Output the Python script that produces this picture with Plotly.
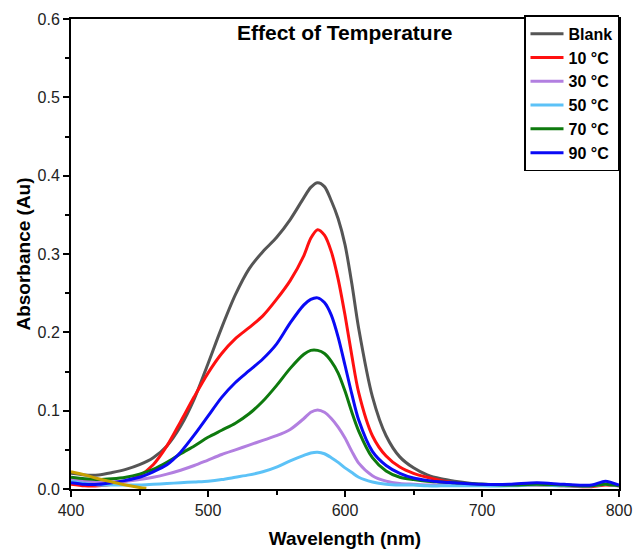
import plotly.graph_objects as go

wavelength = [400, 410, 420, 430, 440, 450, 460, 470, 480, 490, 500, 510, 520, 530, 540,
              550, 560, 570, 575, 580, 585, 590, 595, 600, 605, 610, 620, 630, 640, 650,
              660, 670, 680, 700, 720, 740, 760, 780, 790, 800]

blank = [0.020, 0.018, 0.018, 0.021, 0.025, 0.031, 0.040, 0.055, 0.080, 0.115, 0.160, 0.206,
         0.248, 0.281, 0.303, 0.321, 0.344, 0.372, 0.385, 0.391, 0.386, 0.368, 0.345, 0.312,
         0.262, 0.205, 0.118, 0.068, 0.041, 0.027, 0.018, 0.013, 0.010, 0.006, 0.005, 0.006,
         0.005, 0.004, 0.006, 0.004]
t10 = [0.006, 0.004, 0.004, 0.006, 0.010, 0.017, 0.031, 0.055, 0.086, 0.118, 0.148, 0.173,
       0.192, 0.206, 0.221, 0.242, 0.266, 0.298, 0.320, 0.331, 0.324, 0.303, 0.268, 0.222,
       0.170, 0.123, 0.068, 0.042, 0.028, 0.020, 0.015, 0.011, 0.008, 0.005, 0.005, 0.005,
       0.004, 0.003, 0.005, 0.004]
t30 = [0.012, 0.010, 0.009, 0.009, 0.010, 0.012, 0.015, 0.019, 0.024, 0.030, 0.037, 0.044,
       0.050, 0.056, 0.062, 0.068, 0.076, 0.090, 0.098, 0.101, 0.098, 0.090, 0.079, 0.065,
       0.048, 0.033, 0.017, 0.010, 0.007, 0.006, 0.005, 0.005, 0.005, 0.005, 0.005, 0.006,
       0.005, 0.004, 0.006, 0.004]
t50 = [0.010, 0.007, 0.005, 0.005, 0.005, 0.005, 0.006, 0.007, 0.008, 0.009, 0.010, 0.012,
       0.015, 0.018, 0.022, 0.028, 0.036, 0.043, 0.046, 0.047, 0.045, 0.040, 0.034, 0.027,
       0.021, 0.015, 0.009, 0.006, 0.005, 0.005, 0.004, 0.004, 0.004, 0.004, 0.004, 0.005,
       0.004, 0.004, 0.006, 0.004]
t70 = [0.015, 0.013, 0.012, 0.013, 0.015, 0.019, 0.025, 0.034, 0.045, 0.055, 0.066, 0.075,
       0.084, 0.096, 0.112, 0.132, 0.154, 0.172, 0.177, 0.177, 0.173, 0.163, 0.148, 0.125,
       0.098, 0.074, 0.040, 0.023, 0.015, 0.012, 0.010, 0.009, 0.008, 0.006, 0.005, 0.006,
       0.005, 0.004, 0.006, 0.004]
t90 = [0.008, 0.006, 0.006, 0.008, 0.011, 0.015, 0.022, 0.031, 0.047, 0.069, 0.093, 0.117,
       0.136, 0.151, 0.166, 0.185, 0.212, 0.235, 0.242, 0.244, 0.238, 0.222, 0.194, 0.158,
       0.121, 0.088, 0.048, 0.030, 0.020, 0.014, 0.011, 0.009, 0.008, 0.006, 0.006, 0.008,
       0.006, 0.005, 0.010, 0.005]

gold_wavelength = [400, 410, 420, 430, 440, 450, 455]
gold = [0.022, 0.018, 0.013, 0.009, 0.005, 0.002, 0.001]

series_names = ["Blank", "10 °C", "30 °C", "50 °C", "70 °C", "90 °C"]
series_values = [blank, t10, t30, t50, t70, t90]
series_colors = ["#555555", "#FF1010", "#B27FE0", "#5CC2F7", "#0E7A0E", "#0A0AF5"]

FONT = "Liberation Sans, Arial, sans-serif"

fig = go.Figure()
for name, vals, col in zip(series_names, series_values, series_colors):
    fig.add_trace(go.Scatter(
        x=wavelength, y=vals, name=name, mode="lines",
        line=dict(color=col, width=3, shape="spline", smoothing=0.8),
    ))
fig.add_trace(go.Scatter(
    x=gold_wavelength, y=gold, mode="lines", showlegend=False,
    line=dict(color="#C9A000", width=3, shape="spline"),
))

axis_common = dict(
    showline=True, linecolor="black", linewidth=2, mirror=True,
    ticks="outside", ticklen=6, tickwidth=2, tickcolor="black",
    showgrid=False, zeroline=False, automargin=False,
    tickfont=dict(family=FONT, size=16, color="#222"),
)

fig.update_xaxes(
    range=[400, 800], dtick=100, tick0=400,
    minor=dict(dtick=50, ticks="outside", ticklen=4, tickwidth=2, tickcolor="black"),
    title=dict(text="<b>Wavelength (nm)</b>", font=dict(family=FONT, size=19, color="black"), standoff=13),
    **axis_common,
)
fig.update_yaxes(
    range=[0, 0.6], dtick=0.1, tick0=0, tickformat=".1f",
    minor=dict(dtick=0.05, ticks="outside", ticklen=4, tickwidth=2, tickcolor="black"),
    title=dict(text="<b>Absorbance (Au)</b>", font=dict(family=FONT, size=19, color="black"), standoff=2),
    **axis_common,
)

fig.add_annotation(
    text="<b>Effect of Temperature</b>", x=0.5, y=0.972, xref="paper", yref="paper",
    xanchor="center", yanchor="middle", showarrow=False,
    font=dict(family=FONT, size=21, color="black"),
)

fig.update_layout(
    width=635, height=550,
    margin=dict(l=71, r=16, t=19, b=61),
    plot_bgcolor="white", paper_bgcolor="white",
    legend=dict(
        x=1, y=1.008, xanchor="right", yanchor="top",
        bordercolor="black", borderwidth=1.5, bgcolor="white",
        font=dict(family=FONT, size=16, color="black", weight="bold"),
        itemwidth=33, tracegroupgap=0,
    ),
)

fig.write_html("out.html", config={"displayModeBar": False},
               post_script="document.body.style.margin='0';document.body.style.overflow='hidden';")
